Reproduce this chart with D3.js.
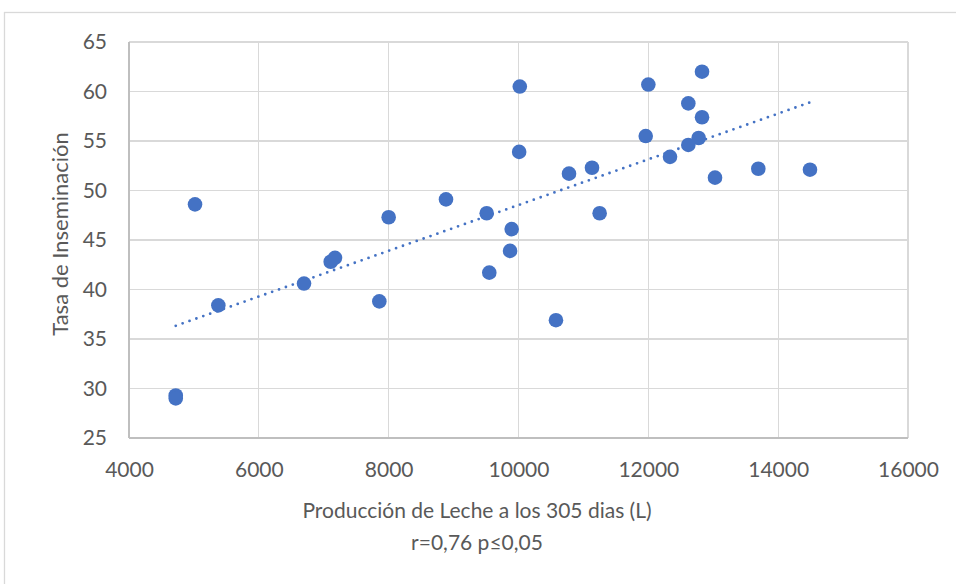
<!DOCTYPE html>
<html>
<head>
<meta charset="utf-8">
<title>Tasa de Inseminación vs Producción de Leche</title>
<script src="https://cdn.jsdelivr.net/npm/d3@7"></script>
<style>
  body { margin: 0; background: #fff; }
  text { font-family: Lato, "Open Sans", sans-serif; fill: #595959; }
  .grid line { stroke: #d9d9d9; stroke-width: 1.3; shape-rendering: crispEdges; }
  .axis path, .axis line { display: none; }
</style>
</head>
<body>
<script>
  // produccion de leche (L) a los 305 dias
  var produccion = [5017, 8000, 8883, 9510, 10020, 10010, 9895, 9870, 12000, 12827,
    12616, 12827, 11960, 12775, 12616, 12334, 11132, 10778, 13027, 13694,
    14490, 11250, 4720, 4720, 5376, 6696, 7107, 7173, 7856, 9550, 10577];
  // tasa de inseminacion
  var tasa = [48.6, 47.3, 49.1, 47.7, 60.5, 53.9, 46.1, 43.9, 60.7, 62.0,
    58.8, 57.4, 55.5, 55.3, 54.6, 53.4, 52.3, 51.7, 51.3, 52.2,
    52.1, 47.7, 29.3, 29.0, 38.4, 40.6, 42.8, 43.2, 38.8, 41.7, 36.9];
  var xTicks = [4000, 6000, 8000, 10000, 12000, 14000, 16000];
  var yTicks = [25, 30, 35, 40, 45, 50, 55, 60, 65];

  var width = 956, height = 584;
  var margin = { top: 42, right: 48, bottom: 146, left: 129 };

  var svg = d3.select("body").append("svg")
    .attr("width", width).attr("height", height);

  // borde del grafico
  svg.append("rect")
    .attr("x", 4.5).attr("y", 12.5)
    .attr("width", 980).attr("height", 620)
    .attr("fill", "none").attr("stroke", "#d9d9d9").attr("stroke-width", 1.3);

  var x = d3.scaleLinear().domain([4000, 16000]).range([margin.left, width - margin.right]);
  var y = d3.scaleLinear().domain([25, 65]).range([height - margin.bottom, margin.top]);

  // lineas de cuadricula
  svg.append("g").attr("class", "grid")
    .selectAll("line.v").data(xTicks).enter().append("line")
    .attr("x1", function(d) { return x(d); }).attr("x2", function(d) { return x(d); })
    .attr("y1", y(25)).attr("y2", y(65));
  svg.append("g").attr("class", "grid")
    .selectAll("line.h").data(yTicks).enter().append("line")
    .attr("x1", x(4000)).attr("x2", x(16000))
    .attr("y1", function(d) { return y(d); }).attr("y2", function(d) { return y(d); });

  // ejes (linea izquierda e inferior un poco mas oscuras)
  svg.append("line")
    .attr("x1", x(4000)).attr("x2", x(4000)).attr("y1", y(25)).attr("y2", y(65))
    .attr("stroke", "#bfbfbf").attr("stroke-width", 1.3).attr("shape-rendering", "crispEdges");
  svg.append("line")
    .attr("x1", x(4000)).attr("x2", x(16000)).attr("y1", y(25)).attr("y2", y(25))
    .attr("stroke", "#bfbfbf").attr("stroke-width", 1.3).attr("shape-rendering", "crispEdges");

  var axisX = d3.axisBottom(x).tickValues(xTicks).tickSize(0).tickPadding(24).tickFormat(d3.format("d"));
  svg.append("g").attr("class", "axis")
    .attr("transform", "translate(0," + y(25) + ")")
    .call(axisX)
    .selectAll("text").attr("font-size", "21px").attr("fill", "#595959");

  var axisY = d3.axisLeft(y).tickValues(yTicks).tickSize(0).tickPadding(22).tickFormat(d3.format("d"));
  svg.append("g").attr("class", "axis")
    .attr("transform", "translate(" + x(4000) + ",0)")
    .call(axisY)
    .selectAll("text").attr("font-size", "21px").attr("fill", "#595959");

  // titulos
  svg.append("text")
    .attr("x", 477).attr("y", 518)
    .attr("text-anchor", "middle").attr("font-size", "21px")
    .text("Producción de Leche a los 305 dias (L)");
  svg.append("text")
    .attr("x", 477).attr("y", 550)
    .attr("text-anchor", "middle").attr("font-size", "21px")
    .text("r=0,76 p≤0,05");
  svg.append("text")
    .attr("transform", "translate(68," + 234 + ") rotate(-90)")
    .attr("text-anchor", "middle").attr("font-size", "22px")
    .text("Tasa de Inseminación");

  // linea de tendencia (minimos cuadrados)
  var mx = d3.mean(produccion), my = d3.mean(tasa);
  var sxy = d3.sum(produccion, function(v, i) { return (v - mx) * (tasa[i] - my); });
  var sxx = d3.sum(produccion, function(v) { return (v - mx) * (v - mx); });
  var b = sxy / sxx, a = my - b * mx;
  var ext = d3.extent(produccion);
  var trend = ext.map(function(v) { return [v, a + b * v]; });

  svg.append("path")
    .datum(trend)
    .attr("fill", "none")
    .attr("stroke", "#4472c4")
    .attr("stroke-width", 2.8)
    .attr("stroke-linecap", "round")
    .attr("stroke-dasharray", "0,7.3")
    .attr("d", d3.line()
      .x(function(d) { return x(d[0]); })
      .y(function(d) { return y(d[1]); }));

  // puntos
  svg.append("g")
    .selectAll("circle")
    .data(produccion)
    .enter()
    .append("circle")
    .attr("cx", function(d) { return x(d); })
    .attr("cy", function(d, i) { return y(tasa[i]); })
    .attr("r", 7.3)
    .attr("fill", "#4472c4");
</script>
</body>
</html>
